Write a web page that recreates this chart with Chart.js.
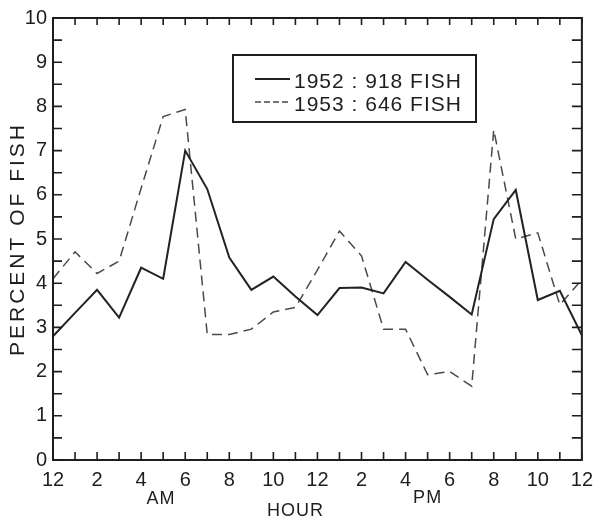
<!DOCTYPE html>
<html>
<head>
<meta charset="utf-8">
<script src="https://cdn.jsdelivr.net/npm/chart.js@4"></script>
<style>
  html, body { margin: 0; padding: 0; background: #fff; }
  #wrap { width: 601px; height: 521px; }
</style>
</head>
<body>
<div id="wrap"><canvas id="myChart" width="601" height="521"></canvas></div>
<script>
// hour of day, 0 = midnight, 12 = noon, 24 = midnight
const hours = [0, 1, 2, 3, 4, 5, 6, 7, 8, 9, 10, 11, 12, 13, 14, 15, 16, 17, 18, 19, 20, 21, 22, 23, 24];
const fish1952 = [2.8, 3.33, 3.85, 3.22, 4.35, 4.1, 7.0, 6.13, 4.58, 3.85, 4.15, 3.7, 3.28, 3.89, 3.9, 3.77, 4.48, 4.08, 3.69, 3.29, 5.45, 6.11, 3.62, 3.83, 2.82];
const fish1953 = [4.1, 4.71, 4.22, 4.5, 6.15, 7.77, 7.93, 2.84, 2.84, 2.96, 3.35, 3.45, 4.3, 5.18, 4.62, 2.96, 2.96, 1.93, 2.0, 1.67, 7.47, 5.0, 5.14, 3.51, 4.08];
const seriesLabels = ['1952 : 918 FISH', '1953 : 646 FISH'];
const xTickValues = [0, 2, 4, 6, 8, 10, 12, 14, 16, 18, 20, 22, 24];
const xTickLabels = ['12', '2', '4', '6', '8', '10', '12', '2', '4', '6', '8', '10', '12'];

const font = '"Liberation Sans", Arial, sans-serif';
const ink = '#1e1e1e';

function pts(vals) {
  return hours.map((h, i) => ({ x: h, y: vals[i] }));
}

const frame = {
  id: 'frame',
  afterDraw(chart) {
    const ctx = chart.ctx;
    const a = chart.chartArea;
    const xs = chart.scales.x;
    const ys = chart.scales.y;
    ctx.save();
    ctx.strokeStyle = ink;
    ctx.lineWidth = 2;
    ctx.strokeRect(a.left, a.top, a.right - a.left, a.bottom - a.top);

    // inward ticks
    ctx.lineWidth = 1.6;
    ctx.beginPath();
    for (let h = 0; h <= 24; h++) {
      const x = xs.getPixelForValue(h);
      ctx.moveTo(x, a.bottom); ctx.lineTo(x, a.bottom - 8);
      ctx.moveTo(x, a.top); ctx.lineTo(x, a.top + 7);
    }
    for (let v = 0; v <= 10; v += 0.5) {
      const y = ys.getPixelForValue(v);
      ctx.moveTo(a.left, y); ctx.lineTo(a.left + 9, y);
      ctx.moveTo(a.right, y); ctx.lineTo(a.right - 10, y);
    }
    ctx.stroke();

    // axis texts
    ctx.fillStyle = ink;
    ctx.textAlign = 'center';
    ctx.textBaseline = 'middle';
    ctx.font = '18px ' + font;
    ctx.letterSpacing = '1px';
    ctx.fillText('AM', xs.getPixelForValue(4.9), 499);
    ctx.fillText('PM', xs.getPixelForValue(17), 498);
    ctx.fillText('HOUR', xs.getPixelForValue(11), 511);

    ctx.save();
    ctx.translate(18, 239);
    ctx.rotate(-Math.PI / 2);
    ctx.font = '21px ' + font;
    ctx.letterSpacing = '3px';
    ctx.fillText('PERCENT OF FISH', 0, 0);
    ctx.restore();

    // legend box
    const lx = 233, ly = 55, lw = 243, lh = 67;
    ctx.lineWidth = 2;
    ctx.strokeRect(lx, ly, lw, lh);
    ctx.letterSpacing = '1px';
    ctx.font = '21px ' + font;
    ctx.textAlign = 'left';
    chart.data.datasets.forEach((ds, i) => {
      const y = ly + 24 + i * 23;
      ctx.strokeStyle = ds.borderColor;
      ctx.lineWidth = ds.borderWidth;
      ctx.setLineDash(i === 1 ? [6, 3] : []);
      ctx.beginPath();
      ctx.moveTo(lx + 22, y); ctx.lineTo(lx + 57, y);
      ctx.stroke();
      ctx.setLineDash([]);
      ctx.fillText(ds.label, lx + 61, y + 3);
    });
    ctx.restore();
  }
};

const data = {
  datasets: [{
    label: seriesLabels[0],
    data: pts(fish1952),
    borderColor: '#222222',
    borderWidth: 2,
    pointRadius: 0,
    tension: 0,
    fill: false
  }, {
    label: seriesLabels[1],
    data: pts(fish1953),
    borderColor: '#4a4a4a',
    borderWidth: 1.5,
    borderDash: [10, 6],
    pointRadius: 0,
    tension: 0,
    fill: false
  }]
};

const config = {
  type: 'line',
  data: data,
  options: {
    responsive: false,
    animation: false,
    events: [],
    layout: { autoPadding: false, padding: { top: 14, right: 8, left: 0, bottom: 0 } },
    plugins: { legend: { display: false }, tooltip: { enabled: false } },
    scales: {
      x: {
        type: 'linear',
        min: 0,
        max: 24,
        afterFit: (s) => { s.height = 61; },
        afterBuildTicks: (s) => { s.ticks = xTickValues.map(v => ({ value: v })); },
        grid: { display: false, drawTicks: false },
        border: { display: false },
        ticks: {
          autoSkip: false,
          maxRotation: 0,
          padding: 8,
          color: ink,
          font: { family: font, size: 20 },
          callback: (v) => xTickLabels[xTickValues.indexOf(v)]
        }
      },
      y: {
        min: 0,
        max: 10,
        afterFit: (s) => { s.width = 53; },
        grid: { display: false, drawTicks: false },
        border: { display: false },
        ticks: {
          stepSize: 1,
          padding: 6,
          color: ink,
          font: { family: font, size: 20 }
        }
      }
    }
  },
  plugins: [frame]
};

const myChart = new Chart(document.getElementById('myChart'), config);
</script>
</body>
</html>
